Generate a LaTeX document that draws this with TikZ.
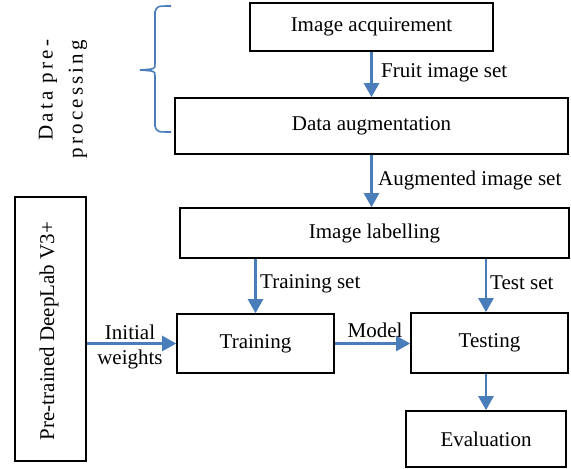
\documentclass[tikz,border=0pt]{standalone}
\usepackage{fontspec}
\setmainfont{Liberation Serif}
\usetikzlibrary{arrows.meta}
\definecolor{arrowblue}{RGB}{74,126,187}
\tikzset{
	box/.style={draw,line width=1.6pt,inner sep=0pt,font=\fontsize{21}{25}\selectfont},
	flow/.style={arrowblue,line width=2.4pt,-{Triangle[width=15pt,length=14pt]}},
	lbl/.style={inner sep=0pt,font=\fontsize{21}{25}\selectfont}
}
\begin{document}
\begin{tikzpicture}[x=1pt,y=-1pt]
			\useasboundingbox (0,0) rectangle (571,469);
			\node[box,minimum width=243pt,minimum height=48pt] (acq) at (371.5,27) {Image acquirement};
			\node[box,minimum width=393pt,minimum height=56pt] (aug) at (371.5,126) {Data augmentation};
			\node[box,minimum width=389pt,minimum height=50pt] (lab) at (374.5,233) {Image labelling};
			\node[box,minimum width=71pt,minimum height=264pt] (deeplab) at (50.5,329) {};
			\node[lbl,rotate=90] (deeplabtxt) at (49,331) {Pre-trained DeepLab V3+};
			\node[box,minimum width=157pt,minimum height=59pt] (train) at (255.5,343.5) {Training};
			\node[box,minimum width=157pt,minimum height=60pt] (test) at (489.5,343) {Testing};
			\node[box,minimum width=160pt,minimum height=56pt] (eval) at (486,439) {Evaluation};
			\draw[flow] (acq.south) -- (aug.north);
			\draw[flow] (aug.south) -- (aug.south |- lab.north);
			\draw[flow] (train.north |- lab.south) -- (train.north);
			\draw[flow] (lab.south -| eval.north) -- (test.north -| eval.north);
			\draw[flow] (test.south -| eval.north) -- (eval.north);
			\draw[flow] (deeplab.east |- train.west) -- (train.west);
			\draw[flow] (train.east) -- (test.west |- train.east);
			\node[lbl,anchor=west] (fruit) at (381,73) {Fruit image set};
			\node[lbl,anchor=west] (augset) at (378,180) {Augmented image set};
			\node[lbl,anchor=west] (trainset) at (260,284) {Training set};
			\node[lbl,anchor=west] (testset) at (490,283) {Test set};
			\node[lbl,align=center] (weights) at (130,347) {Initial\\weights};
			\node[lbl] (model) at (375,330) {Model};
			\draw[arrowblue,line width=1.6pt] (171,6) .. controls (157,6) .. (155,12) -- (155,64) .. controls (155,69) .. (140,70) .. controls (155,71) .. (155,76) -- (155,126) .. controls (157,132) .. (171,132);
			\node[lbl,rotate=90,align=right,font=\fontsize{21}{30}\selectfont\addfontfeature{LetterSpace=15}] (prep) at (63,99) {Data pre-\\processing};
		\end{tikzpicture}
\end{document}
